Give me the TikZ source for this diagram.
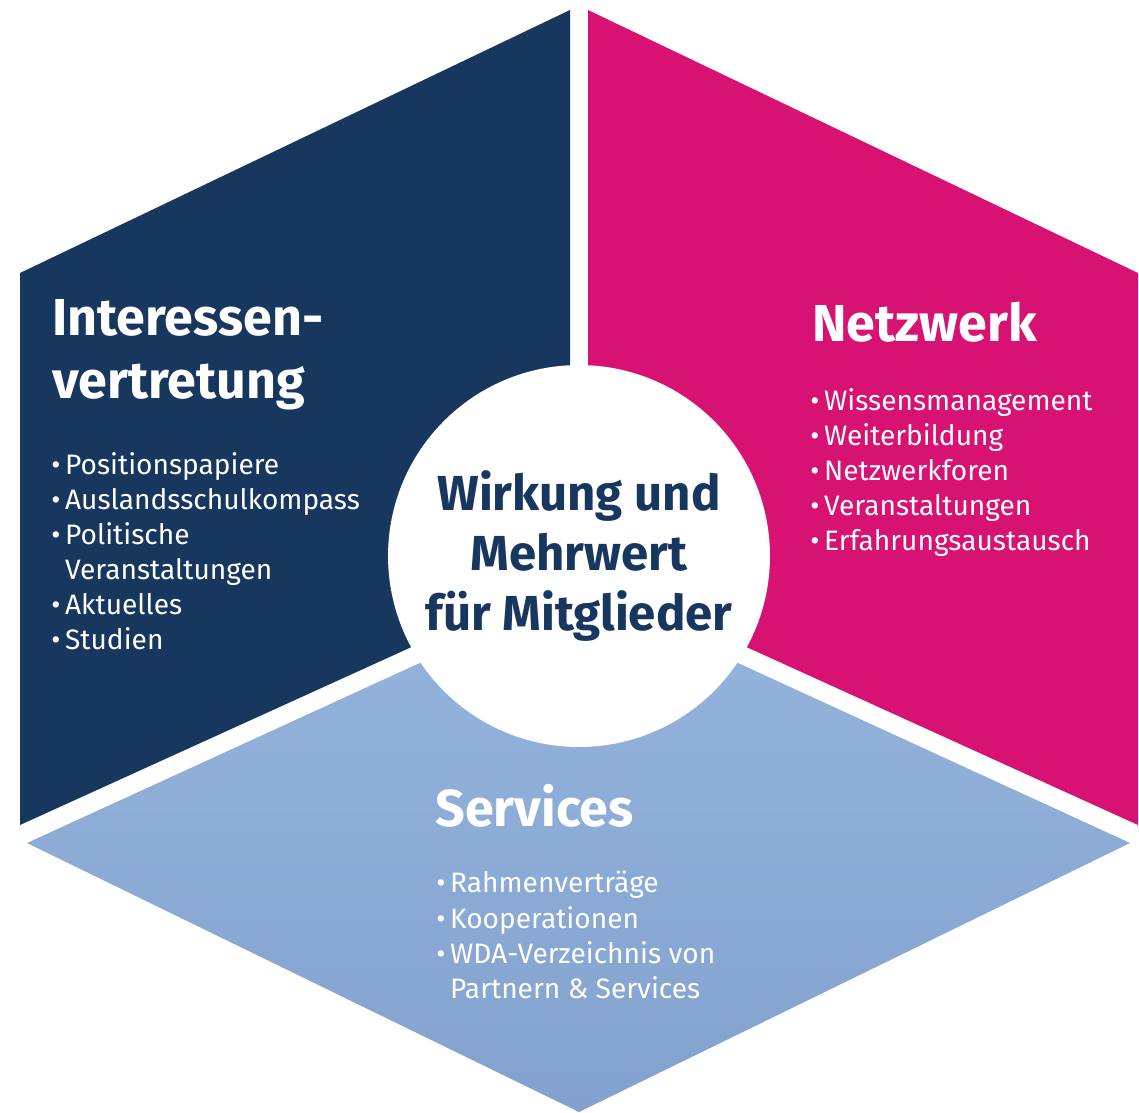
\documentclass[tikz,border=0pt]{standalone}
\usepackage{fontspec}
\setmainfont{Fira Sans}
\usetikzlibrary{positioning}

\definecolor{wdanavy}{RGB}{24,55,94}
\definecolor{wdamagenta}{RGB}{216,18,114}
\definecolor{wdabluetop}{RGB}{150,181,221}
\definecolor{wdabluebot}{RGB}{130,161,206}

\begin{document}
\begin{tikzpicture}[
    x=0.02cm, y=-0.02cm,
    heading/.style={anchor=north west, inner sep=0pt, text=white, align=left,
                    font=\fontsize{29.6}{35.7}\selectfont\bfseries},
    items/.style={anchor=north west, inner sep=0pt, text=white, align=left,
                  font=\fontsize{16}{20}\selectfont},
    hub/.style={circle, fill=white, minimum size=7.64cm, inner sep=0pt,
                align=center, text=wdanavy, font=\fontsize{28}{34}\selectfont\bfseries},
]
    \useasboundingbox (0,0) rectangle (1139,1112);

    % three segments of the hexagon
    \fill[wdanavy]    (570,10) -- (20,273) -- (20,825) -- (570,575) -- cycle;
    \fill[wdamagenta] (588,10) -- (1138,273) -- (1138,825) -- (588,575) -- cycle;
    \shade[top color=wdabluetop, bottom color=wdabluebot]
        (27,843) -- (579,590) -- (1130,843) -- (579,1112) -- cycle;

    \node[hub] (hub) at (579,556) {Wirkung und\\Mehrwert\\für Mitglieder};

    \node[heading] (lobby) at (52,299) {Interessen-\\vertretung};
    \node[items] (lobbylist) at (51,452)
        {•\,Positionspapiere\\•\,Auslandsschulkompass\\•\,Politische\\
         \phantom{•\,}Veranstaltungen\\•\,Aktuelles\\•\,Studien};

    \node[heading] (network) at (812,302) {Netzwerk};
    \node[items] (networklist) at (810,388)
        {•\,Wissensmanagement\\•\,Weiterbildung\\•\,Netzwerkforen\\
         •\,Veranstaltungen\\•\,Erfahrungsaustausch};

    \node[heading] (services) at (435,784) {Services};
    \node[items] (serviceslist) at (436,871)
        {•\,Rahmenverträge\\•\,Kooperationen\\•\,WDA-Verzeichnis von\\
         \phantom{•\,}Partnern \& Services};
\end{tikzpicture}
\end{document}
